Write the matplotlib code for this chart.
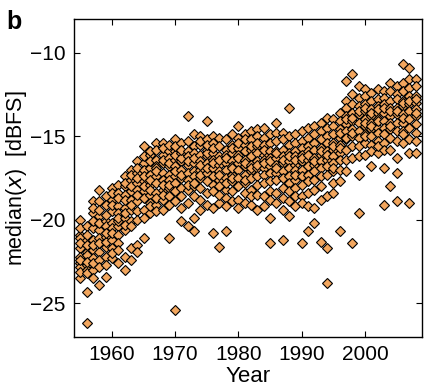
import numpy as np
import matplotlib
matplotlib.use("Agg")
import matplotlib.pyplot as plt

plt.rcParams['font.family'] = ['Liberation Sans', 'DejaVu Sans']

# median level per track, grouped by year
years_50s = [1955, 1956, 1957, 1958, 1959]
vals_50s = [
    [-20.0, -20.9, -21.1, -21.7, -22.2, -22.6, -22.8, -23.5, -21.4, -22.4, -20.5, -23.1],
    [-20.4, -21.2, -21.9, -22.1, -22.7, -23.0, -24.3, -26.2, -21.5, -22.5, -20.9, -23.2],
    [-18.9, -19.6, -20.5, -21.2, -21.8, -22.3, -23.0, -23.5, -20.1, -22.6, -21.5, -19.3],
    [-18.2, -18.9, -19.8, -20.6, -21.1, -21.9, -22.4, -23.9, -20.2, -22.8, -21.4, -19.4],
    [-18.6, -19.1, -20.1, -20.4, -21.0, -21.6, -22.2, -23.4, -19.7, -22.7, -21.3, -20.8],
]

years_60s = list(range(1960, 1970))
vals_60s = [
    [-18.1, -18.8, -19.5, -20.2, -20.5, -21.2, -21.7, -22.3, -19.1, -20.8, -18.4, -22.0],
    [-17.9, -18.4, -19.2, -19.6, -20.4, -20.9, -21.4, -22.6, -18.7, -20.1, -19.9, -21.8],
    [-17.4, -18.0, -18.5, -19.3, -19.9, -20.6, -23.0, -22.2, -18.8, -17.8, -19.6, -20.3],
    [-17.0, -17.6, -18.3, -18.8, -19.4, -20.1, -22.4, -21.7, -18.0, -19.1, -17.3, -20.4],
    [-16.5, -17.2, -17.8, -18.2, -18.9, -19.5, -21.5, -21.9, -17.5, -18.5, -20.0, -16.9],
    [-15.6, -16.6, -17.0, -17.7, -18.3, -18.7, -19.4, -21.1, -16.2, -17.4, -18.0, -19.9],
    [-16.1, -16.9, -17.3, -17.9, -18.5, -19.0, -19.6, -16.5, -17.6, -18.2, -15.9, -19.2],
    [-15.4, -16.4, -16.8, -17.4, -17.8, -18.4, -19.1, -16.9, -17.1, -18.7, -15.8, -19.5],
    [-15.4, -16.1, -16.6, -17.2, -17.6, -18.2, -18.8, -19.4, -16.4, -17.9, -15.7, -18.5],
    [-15.9, -16.3, -16.8, -17.3, -17.6, -18.1, -18.6, -21.1, -16.6, -17.9, -15.5, -19.1],
]

years_70s = list(range(1970, 1980))
vals_70s = [
    [-15.2, -15.9, -16.4, -16.8, -17.4, -17.8, -18.3, -25.4, -16.1, -17.1, -18.9, -15.6],
    [-15.4, -16.0, -16.5, -17.0, -17.5, -18.1, -18.6, -20.1, -16.3, -17.3, -19.3, -15.8],
    [-13.8, -15.3, -15.9, -16.2, -16.7, -17.2, -17.6, -18.2, -20.4, -16.5, -17.9, -19.0],
    [-14.9, -15.6, -16.0, -16.6, -17.1, -17.4, -18.0, -19.9, -20.7, -16.3, -17.8, -18.6],
    [-15.0, -15.5, -16.1, -16.5, -17.0, -17.5, -18.1, -18.8, -16.7, -17.3, -15.3, -19.4],
    [-14.1, -15.2, -15.8, -16.2, -16.6, -17.2, -17.7, -18.4, -16.0, -16.9, -19.1, -15.5],
    [-15.0, -15.4, -16.0, -16.4, -16.9, -17.4, -17.9, -19.3, -20.8, -16.6, -18.3, -15.7],
    [-15.1, -15.6, -16.2, -16.7, -17.1, -17.6, -18.0, -19.0, -21.6, -16.4, -18.5, -17.3],
    [-15.2, -15.8, -16.1, -16.6, -17.0, -17.5, -18.2, -18.7, -20.7, -16.3, -17.8, -19.2],
    [-14.9, -15.5, -16.0, -16.5, -16.8, -17.3, -17.7, -18.3, -15.7, -16.9, -18.9, -17.5],
]

years_80s = list(range(1980, 1990))
vals_80s = [
    [-14.4, -15.1, -15.7, -16.1, -16.6, -17.0, -17.5, -18.0, -18.8, -16.3, -15.4, -19.3],
    [-14.9, -15.5, -15.9, -16.4, -16.8, -17.3, -17.8, -18.4, -15.2, -16.6, -17.6, -19.0],
    [-14.7, -15.2, -15.8, -16.2, -16.7, -17.1, -17.5, -18.2, -19.1, -15.6, -16.9, -18.6],
    [-14.6, -15.0, -15.6, -16.0, -16.5, -16.9, -17.4, -17.9, -18.5, -19.4, -15.4, -16.7],
    [-14.5, -15.1, -15.5, -16.1, -16.4, -16.9, -17.3, -17.8, -18.6, -19.2, -15.8, -16.6],
    [-14.9, -15.4, -15.9, -16.3, -16.8, -17.2, -17.7, -18.3, -19.9, -21.4, -16.5, -18.8],
    [-14.2, -14.8, -15.3, -15.9, -16.3, -16.7, -17.2, -17.6, -18.4, -16.0, -16.9, -19.0],
    [-14.8, -15.2, -15.8, -16.2, -16.6, -17.1, -17.5, -18.1, -18.7, -21.2, -16.4, -19.4],
    [-13.3, -15.0, -15.5, -16.0, -16.5, -16.9, -17.4, -17.8, -18.9, -19.8, -16.2, -18.3],
    [-14.9, -15.4, -15.9, -16.2, -16.7, -17.0, -17.6, -18.1, -18.6, -19.2, -16.4, -17.3],
]

years_90s = list(range(1990, 2000))
vals_90s = [
    [-14.7, -15.3, -15.7, -16.1, -16.5, -17.0, -17.4, -17.9, -18.6, -21.4, -16.3, -19.0],
    [-14.5, -15.1, -15.6, -15.9, -16.4, -16.8, -17.3, -17.7, -18.4, -20.7, -19.2, -16.1],
    [-14.4, -14.9, -15.4, -15.8, -16.3, -16.7, -17.1, -17.6, -18.2, -20.2, -19.3, -16.5],
    [-14.2, -14.7, -15.2, -15.7, -16.1, -16.5, -16.9, -17.4, -18.0, -21.3, -18.8, -15.9],
    [-13.9, -14.5, -15.0, -15.4, -15.9, -16.4, -16.8, -17.3, -21.7, -23.8, -18.6, -16.1],
    [-14.0, -14.4, -14.9, -15.4, -15.8, -16.2, -16.6, -17.1, -17.8, -18.4, -15.6, -16.9],
    [-13.6, -14.1, -14.6, -15.1, -15.5, -16.0, -16.4, -17.0, -17.7, -20.7, -14.8, -15.7],
    [-11.7, -12.9, -13.3, -13.8, -14.3, -14.7, -15.2, -15.8, -16.4, -17.1, -14.0, -15.1],
    [-11.3, -12.5, -13.1, -13.6, -14.1, -14.6, -15.0, -15.6, -16.3, -21.4, -13.9, -14.8],
    [-12.0, -12.7, -13.2, -13.7, -14.2, -14.7, -15.1, -15.6, -17.3, -19.6, -13.5, -16.2],
]

years_00s = list(range(2000, 2009))
vals_00s = [
    [-12.2, -12.6, -13.1, -13.5, -14.0, -14.4, -14.9, -15.4, -16.1, -13.3, -14.2, -15.0],
    [-12.4, -12.9, -13.4, -13.8, -14.2, -14.6, -15.0, -15.5, -16.8, -13.6, -14.4, -15.9],
    [-12.2, -12.8, -13.2, -13.6, -14.0, -14.5, -14.8, -15.3, -16.0, -13.4, -14.1, -15.6],
    [-12.3, -12.7, -13.1, -13.6, -14.1, -14.5, -14.9, -15.4, -16.9, -19.1, -13.3, -15.8],
    [-11.8, -12.3, -12.9, -13.3, -13.8, -14.2, -14.6, -15.1, -15.8, -18.0, -13.5, -14.4],
    [-12.0, -12.5, -12.8, -13.3, -13.7, -14.2, -14.7, -15.3, -17.2, -18.9, -13.5, -16.3],
    [-10.7, -11.8, -12.3, -12.9, -13.2, -13.7, -14.2, -14.7, -15.4, -13.0, -13.9, -14.9],
    [-10.9, -11.6, -12.1, -12.6, -13.1, -13.5, -14.0, -14.5, -16.0, -19.0, -12.9, -15.2],
    [-11.6, -12.0, -12.6, -13.0, -13.4, -13.8, -14.3, -14.8, -16.0, -12.8, -13.6, -15.3],
]

years = years_50s + years_60s + years_70s + years_80s + years_90s + years_00s
vals = vals_50s + vals_60s + vals_70s + vals_80s + vals_90s + vals_00s

x = []
y = []
for yr, v in zip(years, vals):
    for val in v:
        x.append(yr)
        y.append(val)

fig = plt.figure(figsize=(4.30, 3.89), dpi=100)
ax = fig.add_axes([0.172, 0.134, 0.809, 0.817])

ax.plot(x, y, linestyle='none', marker='D', markersize=4.6,
        markerfacecolor='#f2a65e', markeredgecolor='black', markeredgewidth=0.8)

ax.set_xlim(1954, 2009)
ax.set_ylim(-27, -8)
ax.set_xticks([1960, 1970, 1980, 1990, 2000])
ax.set_yticks([-25, -20, -15, -10])
ax.set_yticklabels(['\u221225', '\u221220', '\u221215', '\u221210'])
ax.tick_params(direction='in', top=True, right=True, length=4, labelsize=15, pad=6)
for s in ax.spines.values():
    s.set_linewidth(1.0)

ax.set_xlabel('Year', fontsize=16, labelpad=1)
ax.set_ylabel('median($\\it{x}$)  [dBFS]', fontsize=15.5, labelpad=1)
fig.text(0.015, 0.975, 'b', fontsize=18, fontweight='bold', va='top')

fig.savefig('out.png', dpi=100)
